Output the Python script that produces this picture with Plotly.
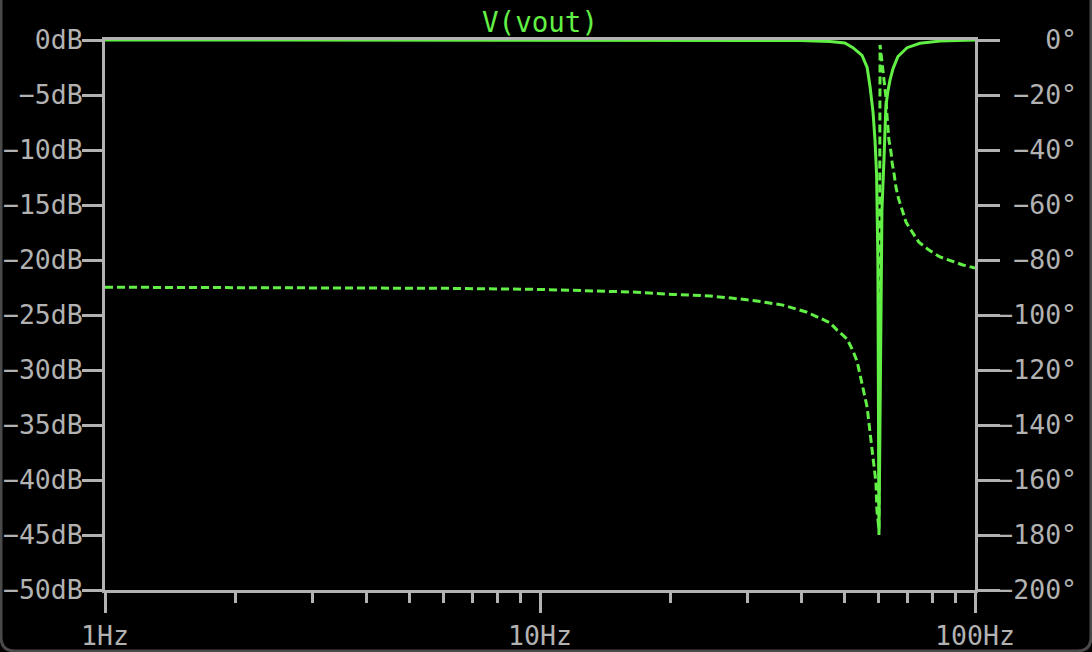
import plotly.graph_objects as go

# ---- data ----
mag_freq = [1, 10, 30, 39.6, 46.4, 50.2, 52.4, 53.8, 55.0, 56.5, 57.4, 58.3, 58.9, 59.4,
            59.8, 60.15, 60.6, 61.1, 61.8, 62.4, 63.1, 63.8, 64.8, 66.5, 69.8, 74.7,
            83.1, 100]
mag_db = [0, 0, 0, -0.05, -0.14, -0.27, -0.7, -1.1, -1.4, -2.5, -4.3, -6.6, -9.1, -12.3,
          -20, -45, -26.4, -15.5, -10.6, -6.0, -4.6, -3.6, -2.6, -1.5, -0.7, -0.3,
          -0.1, 0]

ph_freq = [1, 3.15, 6.14, 10, 13.7, 16.7, 20.2, 24.6, 27.8, 31.5, 36.2, 41.1, 46.4, 48.2,
           50.8, 52.4, 53.6, 55.0, 56.5, 57.4, 58.3, 59.2, 59.5, 60.15,
           60.5, 61.1, 61.8, 62.4, 62.8, 63.4, 64.1, 64.5, 65.2, 65.8, 66.7, 68.0, 69.4,
           71.7, 74.3, 78.4, 83.1, 88.5, 93.8, 100]
ph_deg = [-89.9, -90.0, -90.3, -90.7, -91.3, -91.7, -92.5, -93.1, -93.9, -94.9, -96.4,
          -99.0, -102.8, -105.5, -108.7, -113, -117, -124.7, -133.5, -143, -152.7, -161,
          -171, -178,
          -1.8, -8.4, -14.5, -20.7, -28, -36.4, -40.7, -44.7, -49, -53.5, -57.6, -62,
          -66.2, -69.8, -73.5, -76.4, -78.9, -80.4, -81.8, -82.9]

x_tickvals = [1, 10, 100]
x_ticktext = ["1Hz", "10Hz", "100Hz"]
x_minor = [2, 3, 4, 5, 6, 7, 8, 9, 20, 30, 40, 50, 60, 70, 80, 90]

db_tickvals = [0, -5, -10, -15, -20, -25, -30, -35, -40, -45, -50]
db_ticktext = ["0dB", "\u22125dB", "\u221210dB", "\u221215dB", "\u221220dB", "\u221225dB",
               "\u221230dB", "\u221235dB", "\u221240dB", "\u221245dB", "\u221250dB"]
deg_tickvals = [0, -20, -40, -60, -80, -100, -120, -140, -160, -180, -200]
deg_labels = ["0\u00b0", "\u221220\u00b0", "\u221240\u00b0", "\u221260\u00b0", "\u221280\u00b0",
              "\u2212100\u00b0", "\u2212120\u00b0", "\u2212140\u00b0", "\u2212160\u00b0",
              "\u2212180\u00b0", "\u2212200\u00b0"]
deg_ticktext = ["\u00a0" * (5 - len(s)) + s for s in deg_labels]

title_text = "V(vout)"

# ---- style ----
GREEN = "#63f046"
GREY = "#b2b2b2"
FONT = "DejaVu Sans Mono"
FS = 26.5
W, H = 1092, 652
L, R, T, B = 105, 117, 40, 62

fig = go.Figure()
fig.add_trace(go.Scatter(x=mag_freq, y=mag_db, mode="lines",
                         line=dict(color=GREEN, width=3), yaxis="y", showlegend=False))
fig.add_trace(go.Scatter(x=ph_freq, y=ph_deg, mode="lines",
                         line=dict(color=GREEN, width=3, dash="8px,4px"),
                         yaxis="y2", showlegend=False))

axis_common = dict(showline=True, linecolor=GREY, linewidth=3, ticks="outside",
                   tickcolor=GREY, tickwidth=3, showgrid=False, zeroline=False,
                   automargin=False,
                   tickfont=dict(family=FONT, size=FS, color=GREY))

fig.update_layout(
    width=W, height=H, autosize=False,
    margin=dict(l=L, r=R, t=T, b=B, autoexpand=False),
    paper_bgcolor="black", plot_bgcolor="black",
    title=dict(text=title_text, x=0.5, xref="paper", xanchor="center",
               y=1 - 22 / H, yanchor="middle", automargin=False,
               font=dict(family=FONT, size=27.5, color=GREEN)),
    xaxis=dict(type="log", range=[0, 2], tickmode="array", tickvals=x_tickvals,
               ticktext=x_ticktext, ticklen=20, mirror=True,
               minor=dict(tickmode="array", tickvals=x_minor, ticklen=10,
                          tickcolor=GREY, tickwidth=3, ticks="outside", showgrid=False),
               **axis_common),
    yaxis=dict(range=[-50, 0], tickmode="array", tickvals=db_tickvals,
               ticktext=db_ticktext, ticklen=20, ticklabelstandoff=-6, **axis_common),
    yaxis2=dict(range=[-200, 0], overlaying="y", side="right", tickmode="array",
                tickvals=deg_tickvals, ticktext=deg_ticktext, ticklen=22,
                ticklabelstandoff=-8, **axis_common),
)

# window frame with rounded bottom corners
pw, ph = W - L - R, H - T - B
def px(x):
    return (x - L) / pw
def py(y):
    return (H - B - y) / ph
r = 14
path = (f"M {px(1)},{py(0)} L {px(1)},{py(651 - r)} "
        f"Q {px(1)},{py(651)} {px(1 + r)},{py(651)} "
        f"L {px(1091 - r)},{py(651)} "
        f"Q {px(1091)},{py(651)} {px(1091)},{py(651 - r)} "
        f"L {px(1091)},{py(0)}")
fig.add_shape(type="path", path=path, xref="paper", yref="paper",
              line=dict(color="#4a4a4a", width=3), layer="above")

fig.write_html("out.html",
               config={"displayModeBar": False},
               post_script="document.body.style.margin='0';"
                           "document.body.style.background='black';")
